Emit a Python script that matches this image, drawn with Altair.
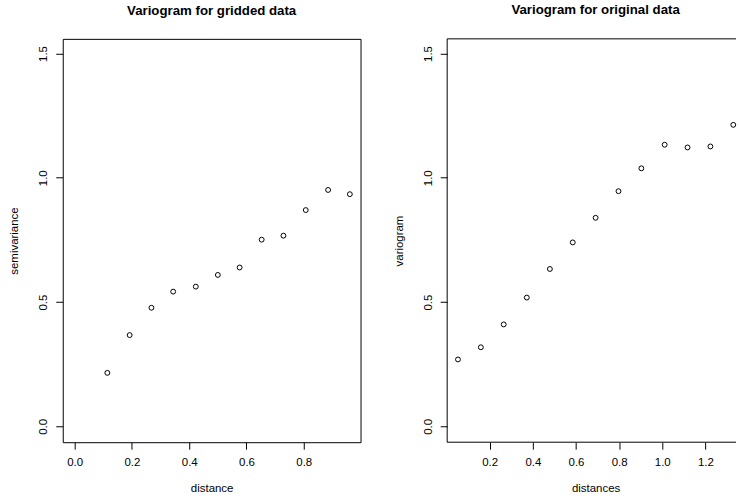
import altair as alt
import pandas as pd

# ---- data ----
grid_dist = [0.114, 0.192, 0.268, 0.344, 0.423, 0.500, 0.576, 0.653, 0.729, 0.807, 0.885, 0.961]
grid_gamma = [0.215, 0.367, 0.477, 0.542, 0.562, 0.609, 0.639, 0.751, 0.767, 0.870, 0.951, 0.934]

orig_dist = [0.053, 0.159, 0.265, 0.372, 0.479, 0.585, 0.691, 0.797, 0.903, 1.011, 1.117, 1.223, 1.329]
orig_gamma = [0.269, 0.318, 0.410, 0.518, 0.633, 0.740, 0.839, 0.946, 1.038, 1.133, 1.122, 1.126, 1.213]

y_ticks = [0.0, 0.5, 1.0, 1.5]
grid_x_ticks = [0.0, 0.2, 0.4, 0.6, 0.8]
orig_x_ticks = [0.2, 0.4, 0.6, 0.8, 1.0, 1.2]

grid_df = pd.DataFrame({"distance": grid_dist, "gamma": grid_gamma})
orig_df = pd.DataFrame({"distance": orig_dist, "gamma": orig_gamma})

FONT = "Liberation Sans"
H = 405
W_LEFT = 299
W_RIGHT = 290

def y_axis(title):
    return alt.Axis(
        title=title, values=y_ticks, format=".1f",
        labelAngle=270, labelAlign="center", labelBaseline="bottom",
        labelPadding=7, titlePadding=18, tickSize=7,
    )

def x_axis(title, ticks, **kw):
    return alt.Axis(
        title=title, values=ticks, format=".1f",
        labelPadding=7, titlePadding=15, tickSize=7, **kw
    )

y_scale = alt.Scale(domain=[-0.064, 1.559], nice=False, zero=False)

left = alt.Chart(grid_df).mark_point(
    shape="circle", filled=False, size=24, stroke="black", strokeWidth=1, opacity=1
).encode(
    x=alt.X("distance:Q", scale=alt.Scale(domain=[-0.0417, 0.9983], nice=False, zero=False),
            axis=x_axis("distance", grid_x_ticks)),
    y=alt.Y("gamma:Q", scale=y_scale, axis=y_axis("semivariance")),
).properties(
    width=W_LEFT, height=H,
    title=alt.TitleParams("Variogram for gridded data", frame="group", anchor="middle", offset=22),
    view=alt.ViewBackground(stroke="black", strokeWidth=1),
)

orig_points = alt.Chart(orig_df).mark_point(
    shape="circle", filled=False, size=24, stroke="black", strokeWidth=1, opacity=1
).encode(
    x=alt.X("distance:Q", scale=alt.Scale(domain=[0.003, 1.3417], nice=False, zero=False),
            axis=x_axis("distances", orig_x_ticks, titleX=149)),
    y=alt.Y("gamma:Q", scale=y_scale, axis=y_axis("variogram")),
)

frame_df = pd.DataFrame({"k": [0]})
frame_left = alt.Chart(frame_df).mark_rule(color="black", strokeWidth=1).encode(
    x=alt.value(0), y=alt.value(0), y2=alt.value(H)
)
frame_top = alt.Chart(frame_df).mark_rule(color="black", strokeWidth=1).encode(
    x=alt.value(0), x2=alt.value(W_RIGHT), y=alt.value(0)
)
frame_bottom = alt.Chart(frame_df).mark_rule(color="black", strokeWidth=1).encode(
    x=alt.value(0), x2=alt.value(W_RIGHT), y=alt.value(H)
)

right = alt.layer(frame_left, frame_top, frame_bottom, orig_points).properties(
    width=W_RIGHT, height=H,
    title=alt.TitleParams("Variogram for original data", frame="group", anchor="middle",
                          offset=22, dx=4),
    view=alt.ViewBackground(stroke="transparent"),
)

chart = alt.hconcat(left, right, spacing=31).properties(
    padding={"left": 8, "top": 1, "right": 0, "bottom": 0},
    background="white",
).configure_axis(
    labelFont=FONT, titleFont=FONT, labelFontSize=11.5, titleFontSize=11.5,
    titleFontWeight="normal", labelColor="black", titleColor="black",
    tickColor="black", tickWidth=1, domain=False, grid=False,
).configure_title(
    font=FONT, fontSize=13.3, fontWeight="bold", color="black",
)

chart.save("out.html", embed_options={"renderer": "svg", "actions": False})
